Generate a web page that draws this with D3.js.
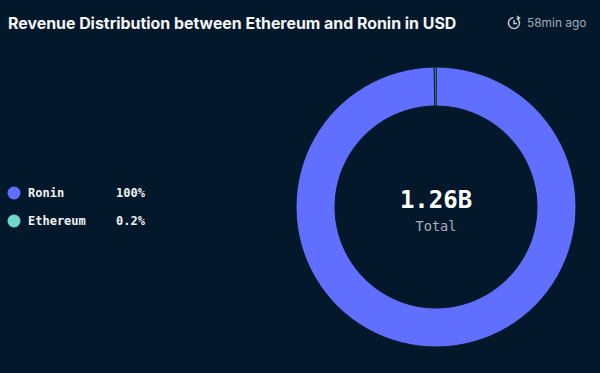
<!DOCTYPE html>
<html>
<head>
<meta charset="utf-8">
<script src="https://cdn.jsdelivr.net/npm/d3@7"></script>
<style>
    html, body { margin: 0; padding: 0; background: #03192b; }
    text { font-family: "DejaVu Sans Mono", monospace; }
</style>
</head>
<body>
<script>
const names = ['Ronin', 'Ethereum'];
const shares = [99.8, 0.2];
const shareLabels = ['100%', '0.2%'];
const colours = ['#616ffe', '#6fd8c8'];
const totalLabel = '1.26B';

const width = 600;
const height = 373;
const bg = '#03192b';

const svg = d3.select('body').append('svg')
    .attr('width', width)
    .attr('height', height)
    .style('display', 'block');

svg.append('rect').attr('width', width).attr('height', height).attr('fill', bg);

// header
svg.append('text')
    .attr('x', 8).attr('y', 29)
    .style('font-family', 'Inter, sans-serif')
    .style('font-size', '15.9px')
    .style('font-weight', 700)
    .attr('fill', '#f4f6f8')
    .text('Revenue Distribution between Ethereum and Ronin in USD');

const clock = svg.append('g')
    .attr('transform', 'translate(514,23)')
    .attr('fill', 'none')
    .attr('stroke', '#c3c8cd')
    .attr('stroke-width', 1.5);
clock.append('path').attr('d', d3.arc()({
    innerRadius: 5.5, outerRadius: 5.5, startAngle: 0.5, endAngle: Math.PI * 2 - 0.1
}));
clock.append('path').attr('d', 'M0,-3V0.5H3');
clock.append('path').attr('d', 'M3,-7L5.5,-5L3,-3.5');

svg.append('text')
    .attr('x', 527).attr('y', 27)
    .style('font-family', 'Inter, sans-serif')
    .style('font-size', '11.9px')
    .attr('fill', '#a3abb3')
    .text('58min ago');

// donut
const pie = d3.pie().sort(null);
const arc = d3.arc().innerRadius(101).outerRadius(140);

const donut = svg.append('g').attr('transform', 'translate(436,207)');

donut.selectAll('path')
    .data(pie(shares))
    .enter()
    .append('path')
    .attr('d', arc)
    .attr('fill', (d, i) => colours[i])
    .attr('stroke', bg)
    .attr('stroke-width', 1);

donut.append('text')
    .attr('text-anchor', 'middle')
    .attr('y', 1)
    .style('font-size', '24px')
    .style('font-weight', 700)
    .attr('fill', '#ffffff')
    .text(totalLabel);

donut.append('text')
    .attr('text-anchor', 'middle')
    .attr('y', 24)
    .style('font-size', '13.6px')
    .attr('fill', '#a7b0b8')
    .text('Total');

// legend
const legendY = d3.scalePoint().domain(names).range([193, 221]);

const rows = svg.selectAll('.legend-row')
    .data(names)
    .enter()
    .append('g')
    .attr('class', 'legend-row')
    .attr('transform', d => `translate(0,${legendY(d)})`);

rows.append('circle')
    .attr('cx', 14)
    .attr('r', 6.5)
    .attr('fill', (d, i) => colours[i]);

rows.append('text')
    .attr('x', 28).attr('y', 4)
    .style('font-size', '12px')
    .style('font-weight', 700)
    .attr('fill', '#f0f2f4')
    .text(d => d);

rows.append('text')
    .attr('x', 116).attr('y', 4)
    .style('font-size', '12px')
    .style('font-weight', 700)
    .attr('fill', '#f0f2f4')
    .text((d, i) => shareLabels[i]);
</script>
</body>
</html>
